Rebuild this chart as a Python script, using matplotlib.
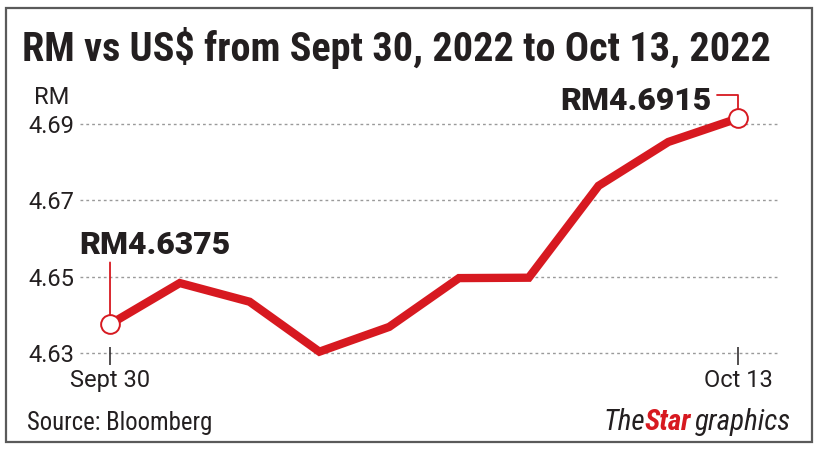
import matplotlib
matplotlib.use("Agg")
import matplotlib.pyplot as plt
from matplotlib import font_manager
from matplotlib.patches import Rectangle

# data
dates = ["Sept 30", "Oct 3", "Oct 4", "Oct 5", "Oct 6", "Oct 7",
         "Oct 10", "Oct 11", "Oct 12", "Oct 13"]
rates = [4.6375, 4.6483, 4.6434, 4.6303, 4.6368, 4.6496,
         4.6497, 4.6738, 4.6853, 4.6915]
yticks = [4.63, 4.65, 4.67, 4.69]
xtick_labels = ["Sept 30", "Oct 13"]

RED = "#d71920"
DARK = "#231f20"

installed = {f.name for f in font_manager.fontManager.ttflist}
def pick(*names):
    for n in names:
        if n in installed:
            return n
    return "DejaVu Sans"

regular = pick("Roboto", "Noto Sans")
narrow = pick("Roboto Condensed", "Liberation Sans Narrow", "Roboto")
plt.rcParams["font.family"] = regular

W, H = 819, 453
fig = plt.figure(figsize=(W / 100, H / 100), dpi=100)
fig.patch.set_facecolor("white")

# grey frame round the graphic
fig.patches.append(Rectangle((6 / W, 11 / H), 806 / W, 434 / H, transform=fig.transFigure,
                             fill=False, edgecolor="#5a5a5a", lw=1.6))

# axes placed in pixels: x 80..780, y 100..370 (top down)
ax = fig.add_axes([80 / W, (H - 370) / H, 700 / W, 270 / H])
x = list(range(len(rates)))
ax.set_xlim(-0.43, 9.6)
ax.set_ylim(4.6255, 4.6963)

for v in yticks:
    ax.axhline(v, color="#9a9a9a", lw=1, ls=(0, (2, 2.2)), zorder=0)

ax.plot(x, rates, color=RED, lw=6, solid_joinstyle="miter", zorder=2)
ax.plot([x[0], x[-1]], [rates[0], rates[-1]], "o", ms=13.5, mfc="white",
        mec=RED, mew=1.4, zorder=3)

for s in ax.spines.values():
    s.set_visible(False)
ax.spines["bottom"].set_position(("data", 4.6315))
ax.set_yticks(yticks)
ax.set_yticklabels([f"{v:.2f}" for v in yticks])
ax.set_xticks([x[0], x[-1]])
ax.set_xticklabels(xtick_labels)
ax.tick_params(axis="y", length=0, pad=4, labelsize=17, labelcolor=DARK)
ax.tick_params(axis="x", length=13, width=1.1, color=DARK, direction="out",
               pad=3, labelsize=17, labelcolor=DARK)

# first point label
ax.annotate("", xy=(x[0], rates[0]), xytext=(0, 44.5), textcoords="offset points",
            arrowprops=dict(arrowstyle="-", color=RED, lw=1.3, shrinkA=0, shrinkB=6.8))
ax.annotate(f"RM{rates[0]:.4f}", xy=(x[0], rates[0]), xytext=(-22, 50.5),
            textcoords="offset points", ha="left", va="baseline",
            fontsize=23, fontweight="black", color=DARK)

# last point label
ax.annotate("", xy=(x[-1], rates[-1]), xytext=(-15, 16.5), textcoords="offset points",
            arrowprops=dict(arrowstyle="-", color=RED, lw=1.3, shrinkA=0, shrinkB=6.8,
                            connectionstyle="angle,angleA=0,angleB=90,rad=0"))
ax.annotate(f"RM{rates[-1]:.4f}", xy=(x[-1], rates[-1]), xytext=(-19, 5.8),
            textcoords="offset points", ha="right", va="baseline",
            fontsize=23, fontweight="black", color=DARK)

fig.text(52 / W, 1 - 97 / H, "RM", ha="center", va="center", fontsize=17, color=DARK)

# title, fitted to its width in the reference
renderer = fig.canvas.get_renderer()
def fit(t, width_px):
    w = t.get_window_extent(renderer).width
    t.set_fontsize(t.get_fontsize() * width_px / w)

title = fig.text(22 / W, 1 - 61 / H, "RM vs US$ from Sept 30, 2022 to Oct 13, 2022",
                 ha="left", va="baseline", fontsize=28, fontweight="bold",
                 family=narrow, color=DARK)
fit(title, 748)

src = fig.text(27 / W, 1 - 430 / H, "Source: Bloomberg", ha="left", va="baseline",
               fontsize=16, family=narrow, color=DARK)
fit(src, 186)

# TheStar graphics logo text
xpos = 603
for txt, col, wt in [("The", DARK, "normal"), ("Star", RED, "bold"), ("graphics", DARK, "normal")]:
    t = fig.text(xpos / W, 1 - 430 / H, txt, ha="left", va="baseline", fontsize=21,
                 family=narrow, style="italic", fontweight=wt, color=col)
    xpos += t.get_window_extent(renderer).width + (4 if txt == "Star" else 0)

fig.savefig("out.png", dpi=100, facecolor="white")
